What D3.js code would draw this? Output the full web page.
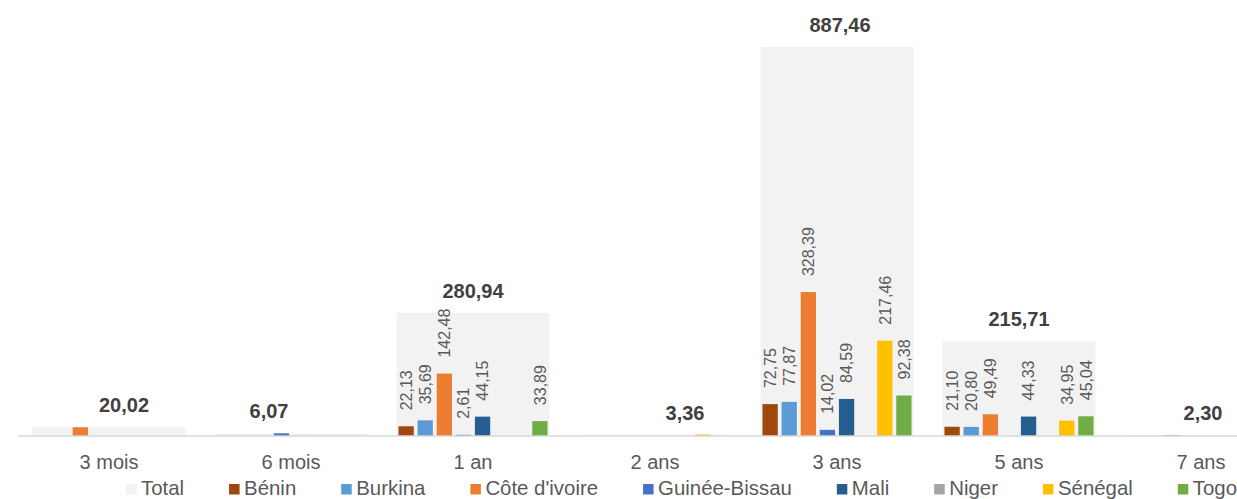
<!DOCTYPE html>
<html>
<head>
<meta charset="utf-8">
<script src="https://cdn.jsdelivr.net/npm/d3@7"></script>
<style>
  html, body { margin: 0; padding: 0; background: #ffffff; }
  svg { display: block; font-family: "Liberation Sans", Arial, sans-serif; }
</style>
</head>
<body>
<svg id="chart" width="1237" height="499"></svg>
<script>
// ---- data ----
const categories = ["3 mois", "6 mois", "1 an", "2 ans", "3 ans", "5 ans", "7 ans"];
const seriesNames = ["Bénin", "Burkina", "Côte d'ivoire", "Guinée-Bissau", "Mali", "Niger", "Sénégal", "Togo"];
const totals = [20.02, 6.07, 280.94, 3.36, 887.46, 215.71, 2.30];
const benin       = [0, 0, 22.13, 0, 72.75, 21.10, 0];
const burkina     = [0, 0, 35.69, 0, 77.87, 20.80, 0];
const coteIvoire  = [20.02, 0, 142.48, 0, 328.39, 49.49, 2.30];
const guineeBissau= [0, 6.07, 2.61, 0, 14.02, 0, 0];
const mali        = [0, 0, 44.15, 0, 84.59, 44.33, 0];
const niger       = [0, 0, 0, 0, 0, 0, 0];
const senegal     = [0, 0, 0, 3.36, 217.46, 34.95, 0];
const togo        = [0, 0, 33.89, 0, 92.38, 45.04, 0];
const seriesValues = [benin, burkina, coteIvoire, guineeBissau, mali, niger, senegal, togo];
const labelledCategories = ["1 an", "3 ans", "5 ans"];

// ---- style ----
const totalColor = "#F2F2F2";
const seriesColors = ["#9E480E", "#5B9BD5", "#ED7D31", "#4472C4", "#255E91", "#A5A5A5", "#FFC000", "#70AD47"];
const totalLabelNudge = [15, -22, 0, 30, 3, 0, 2]; // manual label offsets (px)

const fmt = v => v.toFixed(2).replace(".", ",");

const svg = d3.select("#chart");
const baseY = 436;

const x0 = d3.scaleBand().domain(categories).range([18, 18 + 7 * 182])
  .paddingInner(0.16).paddingOuter(0.08);
const x1 = d3.scaleBand().domain(seriesNames).range([0, x0.bandwidth()])
  .paddingInner(0.2).paddingOuter(0.1);
const y = d3.scaleLinear().domain([0, 994.8]).range([baseY, 0]);

// total bars
svg.append("g").selectAll("rect").data(categories).join("rect")
  .attr("x", d => x0(d))
  .attr("width", x0.bandwidth())
  .attr("y", (d, i) => y(totals[i]))
  .attr("height", (d, i) => y(0) - y(totals[i]))
  .attr("fill", totalColor);

// series bars
const groups = svg.append("g").selectAll("g").data(categories).join("g")
  .attr("transform", d => `translate(${x0(d)},0)`);

groups.each(function(cat, ci) {
  const g = d3.select(this);
  const items = seriesNames.map((s, si) => ({ s, si, v: seriesValues[si][ci] })).filter(d => d.v > 0);
  g.selectAll("rect").data(items).join("rect")
    .attr("x", d => x1(d.s))
    .attr("width", x1.bandwidth())
    .attr("y", d => y(d.v))
    .attr("height", d => y(0) - y(d.v))
    .attr("fill", d => seriesColors[d.si]);
  if (labelledCategories.includes(cat)) {
    g.selectAll("text").data(items).join("text")
      .attr("transform", d => `translate(${x1(d.s) + x1.bandwidth() / 2},${y(d.v) - 16}) rotate(-90)`)
      .attr("dy", "0.36em")
      .attr("text-anchor", "start")
      .attr("font-size", 16)
      .attr("fill", "#595959")
      .text(d => fmt(d.v));
  }
});

// axis line
svg.append("line")
  .attr("x1", 18).attr("x2", 1237)
  .attr("y1", baseY).attr("y2", baseY)
  .attr("stroke", "#D9D9D9").attr("stroke-width", 1.5);

// category labels (via d3 axis)
const axis = d3.axisBottom(x0).tickSize(0).tickPadding(0);
const ag = svg.append("g").attr("transform", `translate(0,${baseY})`).call(axis);
ag.select(".domain").remove();
ag.selectAll("text")
  .attr("y", 33).attr("dy", 0)
  .attr("font-size", 20)
  .attr("font-family", "Liberation Sans, Arial, sans-serif")
  .attr("fill", "#595959");

// total labels
svg.append("g").selectAll("text").data(categories).join("text")
  .attr("x", (d, i) => x0(d) + x0.bandwidth() / 2 + totalLabelNudge[i])
  .attr("y", (d, i) => y(totals[i]) - 15)
  .attr("text-anchor", "middle")
  .attr("font-size", 20)
  .attr("font-weight", "bold")
  .attr("fill", "#404040")
  .text((d, i) => fmt(totals[i]));

// legend
const legendNames = ["Total"].concat(seriesNames);
const legendColors = [totalColor].concat(seriesColors);
const lg = svg.append("g");
let lx = 126;
legendNames.forEach((n, i) => {
  lg.append("rect").attr("x", lx).attr("y", 484).attr("width", 10.5).attr("height", 10.5).attr("fill", legendColors[i]);
  const t = lg.append("text").attr("x", lx + 15).attr("y", 494.5)
    .attr("font-size", 20.4).attr("fill", "#595959").text(n);
  lx += 15 + t.node().getComputedTextLength() + 45;
});
</script>
</body>
</html>
